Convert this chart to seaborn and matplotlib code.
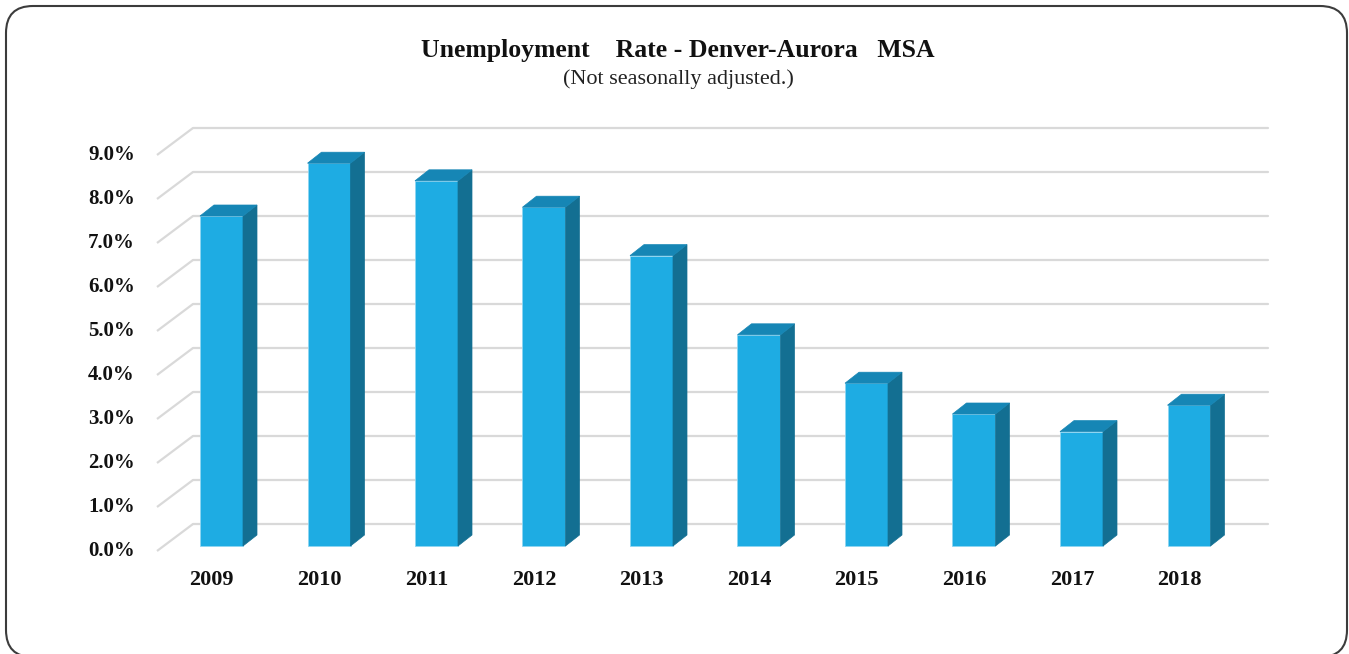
import numpy as np
import matplotlib
matplotlib.use("Agg")
import matplotlib.pyplot as plt
from matplotlib.patches import Polygon, FancyBboxPatch
import seaborn as sns

years = ["2009", "2010", "2011", "2012", "2013", "2014", "2015", "2016", "2017", "2018"]
rates = [7.5, 8.7, 8.3, 7.7, 6.6, 4.8, 3.7, 3.0, 2.6, 3.2]
ticks = [0, 1, 2, 3, 4, 5, 6, 7, 8, 9]
tick_labels = ["%.1f%%" % t for t in ticks]

front_c = "#1EACE3"
side_c = "#136F92"
top_c = "#1686B5"
grid_c = "#d9d9d9"

sns.set_theme(style="white")
plt.rcParams["font.family"] = ["Liberation Serif", "DejaVu Serif"]

W, H = 1349, 654
fig = plt.figure(figsize=(W / 100, H / 100), dpi=100)
ax = fig.add_axes([0, 0, 1, 1])

# layout in pixels: one category = 107.5 px, 1% = 44 px, zero of bar front at y=546
cx0, cw, y0, py = 221.5, 107.5, 546, 44.0

sns.barplot(x=years, y=rates, color=front_c, width=0.4, saturation=1,
            edgecolor="#8fd6f2", linewidth=0.6, ax=ax, zorder=3)

ax.set_xlim((0 - cx0) / cw, (W - cx0) / cw)
ax.set_ylim((y0 - H) / py, y0 / py)
ax.axis("off")

# depth offsets
bdx, bdy = 14 / cw, 11 / py        # bar depth
fx, fy = -7.5 / cw, -5 / py        # front (axis) plane relative to bar front
wdx, wdy = 36 / cw, 27 / py        # full wall depth
axis_x = (157 - cx0) / cw
right_x = (1268 - cx0) / cw

for t in ticks:
    yb = t + fy + wdy
    ax.plot([axis_x, axis_x + wdx], [t + fy, yb], color=grid_c, lw=1.6, zorder=1,
            solid_capstyle="butt")
    ax.plot([axis_x + wdx, right_x], [yb, yb], color=grid_c, lw=1.6, zorder=1)

for p in ax.patches:
    x = p.get_x()
    w = p.get_width()
    h = p.get_height()
    side = Polygon([(x + w, 0), (x + w + bdx, bdy), (x + w + bdx, h + bdy), (x + w, h)],
                   closed=True, facecolor=side_c, edgecolor=side_c, lw=0.5, zorder=3)
    top = Polygon([(x, h), (x + bdx, h + bdy), (x + w + bdx, h + bdy), (x + w, h)],
                  closed=True, facecolor=top_c, edgecolor=top_c, lw=0.5, zorder=3)
    ax.add_patch(side)
    ax.add_patch(top)

for t, lab in zip(ticks, tick_labels):
    ax.text((135 - cx0) / cw, t + fy, lab, ha="right", va="center",
            fontsize=15, fontweight="bold", color="#111111")

for i, yr in enumerate(years):
    ax.text(i + fx - 0.02, (y0 - 580) / py, yr, ha="center", va="center",
            fontsize=16, fontweight="bold", color="#111111")

fig.text(678 / W, 1 - 50 / H, "Unemployment    Rate - Denver-Aurora   MSA",
         ha="center", va="center", fontsize=18.5, fontweight="bold", color="#111111")
fig.text(678 / W, 1 - 79 / H, "(Not seasonally adjusted.)",
         ha="center", va="center", fontsize=16, color="#222222")

border = FancyBboxPatch((6 / W, -3 / H), 1 - 8 / W, 1 - 3 / H,
                        boxstyle="round,pad=0,rounding_size=0.02",
                        transform=fig.transFigure, facecolor="none",
                        edgecolor="#3c3c3c", lw=1.5, mutation_aspect=W / H)
fig.patches.append(border)

fig.savefig("out.png", dpi=100, facecolor="white")
